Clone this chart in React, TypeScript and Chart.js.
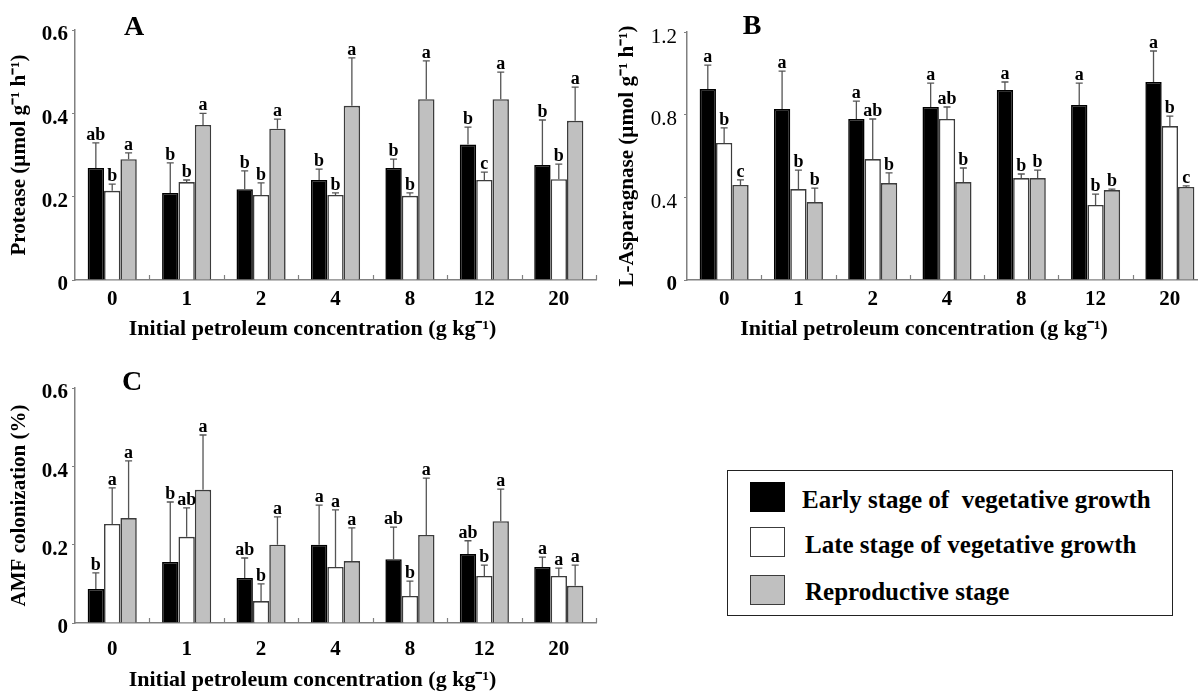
import React, { useEffect, useRef } from "react";
import { Chart, registerables } from "chart.js";

Chart.register(...registerables);

const FONT = '"Liberation Serif", "Times New Roman", serif';

// ---------- shared data ----------
const concentrations = ["0", "1", "2", "4", "8", "12", "20"];
const seriesNames = [
  "Early stage of  vegetative growth",
  "Late stage of vegetative growth",
  "Reproductive stage",
];
const xAxisTitle = "Initial petroleum concentration (g kg\u207B\u00B9)";

// ---------- panel A: Protease ----------
const proteaseEarly = [0.269, 0.209, 0.218, 0.24, 0.269, 0.325, 0.276];
const proteaseLate = [0.214, 0.235, 0.204, 0.204, 0.202, 0.24, 0.242];
const proteaseRepro = [0.29, 0.372, 0.363, 0.418, 0.434, 0.434, 0.382];
const proteaseEarlySD = [0.06, 0.072, 0.044, 0.026, 0.021, 0.042, 0.108];
const proteaseLateSD = [0.016, 0.005, 0.029, 0.005, 0.007, 0.019, 0.036];
const proteaseReproSD = [0.015, 0.028, 0.023, 0.115, 0.092, 0.065, 0.081];
const proteaseEarlyLetters = ["ab", "b", "b", "b", "b", "b", "b"];
const proteaseLateLetters = ["b", "b", "b", "b", "b", "c", "b"];
const proteaseReproLetters = ["a", "a", "a", "a", "a", "a", "a"];
const proteaseTicks = [0, 0.2, 0.4, 0.6];
const proteaseTickLabels = ["0", "0.2", "0.4", "0.6"];

// ---------- panel B: L-Asparaginase ----------
const asparEarly = [0.924, 0.827, 0.779, 0.837, 0.919, 0.847, 0.958];
const asparLate = [0.663, 0.44, 0.585, 0.779, 0.493, 0.363, 0.745];
const asparRepro = [0.46, 0.377, 0.469, 0.474, 0.493, 0.435, 0.45];
const asparEarlySD = [0.116, 0.184, 0.087, 0.116, 0.039, 0.106, 0.15];
const asparLateSD = [0.073, 0.092, 0.194, 0.058, 0.02, 0.053, 0.048];
const asparReproSD = [0.024, 0.068, 0.049, 0.068, 0.039, 0.005, 0.005];
const asparEarlyLetters = ["a", "a", "a", "a", "a", "a", "a"];
const asparLateLetters = ["b", "b", "ab", "ab", "b", "b", "b"];
const asparReproLetters = ["c", "b", "b", "b", "b", "b", "c"];
const asparTicks = [0, 0.4, 0.8, 1.2];
const asparTickLabels = ["0", "0.4", "0.8", "1.2"];

// ---------- panel C: AMF colonization ----------
const amfEarly = [0.087, 0.156, 0.115, 0.2, 0.163, 0.176, 0.143];
const amfLate = [0.253, 0.22, 0.056, 0.143, 0.069, 0.12, 0.12];
const amfRepro = [0.268, 0.34, 0.2, 0.158, 0.225, 0.26, 0.095];
const amfEarlySD = [0.041, 0.153, 0.051, 0.101, 0.082, 0.034, 0.025];
const amfLateSD = [0.092, 0.074, 0.044, 0.146, 0.038, 0.028, 0.02];
const amfReproSD = [0.146, 0.14, 0.071, 0.085, 0.145, 0.082, 0.053];
const amfEarlyLetters = ["b", "b", "ab", "a", "ab", "ab", "a"];
const amfLateLetters = ["a", "ab", "b", "a", "b", "b", "a"];
const amfReproLetters = ["a", "a", "a", "a", "a", "a", "a"];
const amfTicks = [0, 0.2, 0.4, 0.6];
const amfTickLabels = ["0", "0.2", "0.4", "0.6"];

const fills = ["#000000", "#ffffff", "#c0c0c0"];
const borders = ["#000000", "#3c3c3c", "#3c3c3c"];

type Panel = {
  panel: string;
  values: number[][];
  sd: number[][];
  letters: string[][];
  ticks: number[];
  tickLabels: string[];
  yTitle: string;
  yAxisW: number;
  yTitlePad: number;
  yTickPad: number;
  yTickBoldOnlyZero: boolean;
  padTop: number;
  padRight: number;
  xAxisH: number;
  xTickPad: number;
  xTitleY: number;
  panelX: number;
  panelY: number;
};

function makeChart(canvas: HTMLCanvasElement, p: Panel) {
  const datasets = p.values.map((vals, i) => ({
    label: seriesNames[i],
    data: vals,
    backgroundColor: fills[i],
    borderColor: borders[i],
    borderWidth: 1.6,
    categoryPercentage: 0.66,
    barPercentage: 1.0,
  }));

  const decor = {
    id: "decor" + p.panel,
    afterDatasetsDraw(chart: any) {
      const ctx = chart.ctx as CanvasRenderingContext2D;
      const ys = chart.scales.y;
      const area = chart.chartArea;
      ctx.save();
      // error bars + significance letters
      chart.data.datasets.forEach((_ds: any, di: number) => {
        const meta = chart.getDatasetMeta(di);
        meta.data.forEach((bar: any, i: number) => {
          const v = p.values[di][i];
          const top = ys.getPixelForValue(v + p.sd[di][i]);
          ctx.strokeStyle = "#555555";
          ctx.lineWidth = 1.3;
          ctx.beginPath();
          ctx.moveTo(bar.x, bar.y);
          ctx.lineTo(bar.x, top);
          ctx.moveTo(bar.x - 3.5, top);
          ctx.lineTo(bar.x + 3.5, top);
          ctx.stroke();
          ctx.fillStyle = "#000";
          ctx.font = `bold 18px ${FONT}`;
          ctx.textAlign = "center";
          ctx.textBaseline = "alphabetic";
          ctx.fillText(p.letters[di][i], bar.x, top - 3);
        });
      });
      // inner ticks between categories
      const n = concentrations.length;
      const w = (area.right - area.left) / n;
      ctx.strokeStyle = "#808080";
      ctx.lineWidth = 1.2;
      for (let k = 1; k <= n; k++) {
        const xx = Math.round(area.left + k * w) + 0.5;
        ctx.beginPath();
        ctx.moveTo(xx, area.bottom);
        ctx.lineTo(xx, area.bottom - 5);
        ctx.stroke();
      }
      // x axis title
      ctx.fillStyle = "#000";
      ctx.textAlign = "center";
      ctx.textBaseline = "middle";
      ctx.font = `bold 22px ${FONT}`;
      ctx.fillText(xAxisTitle, (area.left + area.right) / 2 - 23, p.xTitleY);
      // panel letter
      ctx.font = `bold 28px ${FONT}`;
      ctx.fillText(p.panel, p.panelX, p.panelY);
      ctx.restore();
    },
  };

  return new Chart(canvas, {
    type: "bar",
    data: { labels: concentrations, datasets },
    plugins: [decor],
    options: {
      responsive: false,
      animation: false,
      layout: { padding: { top: p.padTop, right: p.padRight, left: 0, bottom: 0 } },
      plugins: { legend: { display: false }, tooltip: { enabled: false } },
      scales: {
        x: {
          grid: { display: false, drawTicks: false },
          border: { display: true, color: "#808080", width: 1.5 },
          ticks: {
            color: "#000",
            font: { family: FONT, size: 21, weight: "bold" },
            padding: p.xTickPad,
            maxRotation: 0,
          },
          afterFit: (s: any) => {
            s.height = p.xAxisH;
          },
        },
        y: {
          min: 0,
          max: p.ticks[p.ticks.length - 1],
          afterBuildTicks: (s: any) => {
            s.ticks = p.ticks.map((v) => ({ value: v }));
          },
          grid: {
            display: true,
            drawOnChartArea: false,
            drawTicks: true,
            tickLength: 3,
            color: "#808080",
          },
          border: { display: true, color: "#808080", width: 1.5 },
          ticks: {
            color: "#000",
            padding: p.yTickPad,
            labelOffset: 5,
            font: (c: any) => ({
              family: FONT,
              size: 21,
              weight: p.yTickBoldOnlyZero && c.tick && c.tick.value !== 0 ? "normal" : "bold",
            }),
            callback: (_v: any, i: number) => p.tickLabels[i],
          },
          title: {
            display: true,
            text: p.yTitle,
            color: "#000",
            font: { family: FONT, size: 21, weight: "bold" },
            padding: { top: p.yTitlePad, bottom: 0 },
          },
          afterFit: (s: any) => {
            s.width = p.yAxisW;
          },
        },
      },
    } as any,
  });
}

const panelA: Panel = {
  panel: "A",
  values: [proteaseEarly, proteaseLate, proteaseRepro],
  sd: [proteaseEarlySD, proteaseLateSD, proteaseReproSD],
  letters: [proteaseEarlyLetters, proteaseLateLetters, proteaseReproLetters],
  ticks: proteaseTicks,
  tickLabels: proteaseTickLabels,
  yTitle: "Protease (\u00B5mol g\u207B\u00B9 h\u207B\u00B9)",
  yAxisW: 75,
  yTitlePad: 7,
  yTickPad: 4,
  yTickBoldOnlyZero: false,
  padTop: 30,
  padRight: 4,
  xAxisH: 65,
  xTickPad: 7,
  xTitleY: 329,
  panelX: 134,
  panelY: 28,
};

const panelB: Panel = {
  panel: "B",
  values: [asparEarly, asparLate, asparRepro],
  sd: [asparEarlySD, asparLateSD, asparReproSD],
  letters: [asparEarlyLetters, asparLateLetters, asparReproLetters],
  ticks: asparTicks,
  tickLabels: asparTickLabels,
  yTitle: "L-Asparagnase (\u00B5mol g\u207B\u00B9 h\u207B\u00B9)",
  yAxisW: 79,
  yTitlePad: 7,
  yTickPad: 7,
  yTickBoldOnlyZero: true,
  padTop: 32,
  padRight: 0,
  xAxisH: 65,
  xTickPad: 7,
  xTitleY: 329,
  panelX: 144,
  panelY: 27,
};

const panelC: Panel = {
  panel: "C",
  values: [amfEarly, amfLate, amfRepro],
  sd: [amfEarlySD, amfLateSD, amfReproSD],
  letters: [amfEarlyLetters, amfLateLetters, amfReproLetters],
  ticks: amfTicks,
  tickLabels: amfTickLabels,
  yTitle: "AMF colonization (%)",
  yAxisW: 75,
  yTitlePad: 7,
  yTickPad: 4,
  yTickBoldOnlyZero: false,
  padTop: 43,
  padRight: 4,
  xAxisH: 70,
  xTickPad: 14,
  xTitleY: 335,
  panelX: 132,
  panelY: 38,
};

function PanelCanvas(props: { p: Panel; left: number; top: number; width: number; height: number }) {
  const ref = useRef<HTMLCanvasElement | null>(null);
  useEffect(() => {
    if (!ref.current) return;
    const chart = makeChart(ref.current, props.p);
    return () => chart.destroy();
  }, []);
  return (
    <canvas
      ref={ref}
      width={props.width}
      height={props.height}
      style={{
        position: "absolute",
        left: props.left,
        top: props.top,
        width: props.width,
        height: props.height,
      }}
    />
  );
}

const swatchTops = [482, 527, 575];
const textCenters = [500, 545, 592];

export default function App() {
  return (
    <div
      style={{
        position: "fixed",
        left: 0,
        top: 0,
        width: 1198,
        height: 693,
        overflow: "hidden",
        background: "#fff",
      }}
    >
      <PanelCanvas p={panelA} left={0} top={0} width={600} height={345} />
      <PanelCanvas p={panelB} left={608} top={0} width={599} height={345} />
      <PanelCanvas p={panelC} left={0} top={345} width={600} height={348} />
      <div
        style={{
          position: "absolute",
          left: 727,
          top: 470,
          width: 446,
          height: 146,
          boxSizing: "border-box",
          border: "1.5px solid #222",
        }}
      />
      {seriesNames.map((name, i) => (
        <React.Fragment key={name}>
          <div
            style={{
              position: "absolute",
              left: 750,
              top: swatchTops[i],
              width: 35,
              height: 30,
              boxSizing: "border-box",
              background: fills[i],
              border: `1.5px solid ${i === 0 ? "#000" : "#3c3c3c"}`,
            }}
          />
          <div
            style={{
              position: "absolute",
              left: i === 0 ? 802 : 805,
              top: textCenters[i] - 15,
              height: 30,
              lineHeight: "30px",
              fontFamily: FONT,
              fontWeight: "bold",
              fontSize: 25,
              whiteSpace: "pre",
              color: "#000",
            }}
          >
            {name}
          </div>
        </React.Fragment>
      ))}
    </div>
  );
}
